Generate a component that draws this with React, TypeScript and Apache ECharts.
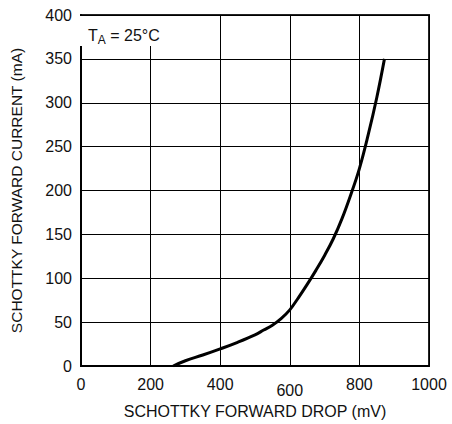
import React, { useEffect, useRef } from "react";
import * as echarts from "echarts";

const voltageMv = [265, 300, 350, 400, 450, 500, 525, 550, 575, 600, 625, 650, 675, 700, 725, 750, 775, 800, 825, 850, 872];
const currentMa = [0, 6, 12.5, 19.5, 27, 35.5, 41, 46.5, 54, 64, 78, 93, 109, 126, 145, 168, 195, 225, 263, 306, 350];

const xTicks = [0, 200, 400, 600, 800, 1000];
const yTicks = [0, 50, 100, 150, 200, 250, 300, 350, 400];

const FONT = "'Liberation Sans', Arial, sans-serif";
const FS = 16;

export default function App() {
  const ref = useRef<HTMLDivElement>(null);
  useEffect(() => {
    if (!ref.current) return;
    const chart = echarts.init(ref.current, undefined, { renderer: "svg" });
    const data = voltageMv.map((v, i) => [v, currentMa[i]]);
    chart.setOption({
      animation: false,
      backgroundColor: "#fff",
      textStyle: { fontFamily: FONT },
      grid: {
        left: 77,
        right: 23,
        top: 15,
        bottom: 57,
        containLabel: false,
        show: true,
        borderColor: "#222",
        borderWidth: 2,
      },
      xAxis: {
        type: "value",
        min: xTicks[0],
        max: xTicks[xTicks.length - 1],
        interval: 200,
        name: "SCHOTTKY FORWARD DROP (mV)",
        nameLocation: "middle",
        nameGap: 37,
        nameTextStyle: { color: "#111", fontSize: FS, fontFamily: FONT },
        axisLine: { show: true, lineStyle: { color: "#000", width: 2 } },
        axisTick: { show: false },
        axisLabel: {
          color: "#111",
          fontSize: FS,
          fontFamily: FONT,
          margin: 10,
          formatter: (v: number) => (v === 600 ? "{low|600}" : String(v)),
          rich: { low: { fontSize: FS, fontFamily: FONT, color: "#111", padding: [6, 0, 0, 0] } },
        },
        splitLine: { show: true, lineStyle: { color: "#000", width: 1 } },
      },
      yAxis: {
        type: "value",
        min: yTicks[0],
        max: yTicks[yTicks.length - 1],
        interval: 50,
        name: "SCHOTTKY FORWARD CURRENT (mA)",
        nameLocation: "middle",
        nameGap: 57,
        nameRotate: 90,
        nameTextStyle: { color: "#111", fontSize: 15.5, fontFamily: FONT },
        axisLine: { show: true, lineStyle: { color: "#000", width: 2 } },
        axisTick: { show: false },
        axisLabel: { color: "#111", fontSize: FS, fontFamily: FONT, margin: 9 },
        splitLine: { show: true, lineStyle: { color: "#000", width: 1 } },
      },
      graphic: [
        {
          type: "rect",
          shape: { x: 78, y: 16, width: 96, height: 30 },
          style: { fill: "#fff" },
          z: 5,
        },
        {
          type: "text",
          x: 88,
          y: 25,
          z: 6,
          style: {
            text: "{t|T}{s|A}{t| = 25°C}",
            rich: {
              t: { fontSize: FS, fontFamily: FONT, fill: "#111" },
              s: { fontSize: 12, fontFamily: FONT, fill: "#111", padding: [9, 0, 0, 0] },
            },
          },
        },
      ],
      series: [
        {
          type: "line",
          data,
          smooth: 0.4,
          showSymbol: false,
          lineStyle: { color: "#000", width: 3 },
          z: 4,
        },
      ],
    });
    return () => chart.dispose();
  }, []);
  return (
    <div
      ref={ref}
      style={{ position: "fixed", left: 0, top: 0, width: 452, height: 424 }}
    />
  );
}
